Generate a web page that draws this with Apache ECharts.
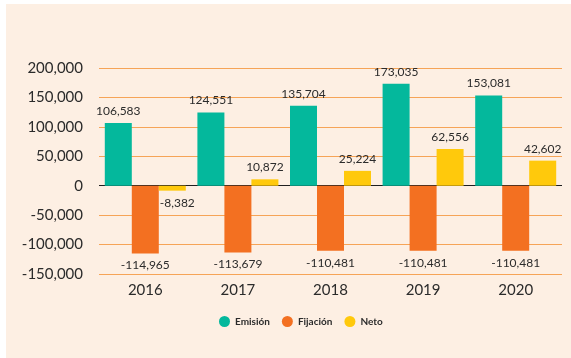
<!DOCTYPE html>
<html>
<head>
<meta charset="utf-8">
<script src="https://cdn.jsdelivr.net/npm/echarts@6/dist/echarts.min.js"></script>
<style>
  html, body { margin: 0; padding: 0; background: #ffffff; }
  #panel { position: absolute; left: 6px; top: 4px; right: 0; bottom: 0; background: #fdefe3; }
  #chart { position: absolute; left: 0; top: 0; width: 571px; height: 358px; }
</style>
</head>
<body>
<div id="panel"></div>
<div id="chart"></div>
<script>
const years = ['2016', '2017', '2018', '2019', '2020'];
const emision = [106583, 124551, 135704, 173035, 153081];
const fijacion = [-114965, -113679, -110481, -110481, -110481];
const neto = [-8382, 10872, 25224, 62556, 42602];
const yTicks = [-150000, -100000, -50000, 0, 50000, 100000, 150000, 200000];

const FONT = 'Lato';
const TEXT = '#2b2b2b';
const fmt = v => v.toLocaleString('en-US');

const chart = echarts.init(document.getElementById('chart'), null, { renderer: 'canvas' });

// zero line dark, every other gridline orange
const gridColors = yTicks.map(t => (t === 0 ? '#1f1f1f' : '#f6a457'));

function labelFor(pos) {
  return {
    show: true,
    position: pos,
    distance: 6,
    fontFamily: FONT,
    fontSize: 12,
    color: TEXT,
    formatter: p => fmt(p.value)
  };
}

chart.setOption({
  backgroundColor: 'transparent',
  animation: false,
  grid: { left: 99, right: 9, top: 68, bottom: 84 },
  legend: {
    bottom: 26,
    left: 214,
    icon: 'circle',
    itemWidth: 11,
    itemHeight: 11,
    itemGap: 12,
    textStyle: { fontFamily: FONT, fontSize: 10, fontWeight: 'bold', color: TEXT },
    data: ['Emisión', 'Fijación', 'Neto']
  },
  xAxis: {
    type: 'category',
    data: years,
    axisLine: { show: false, onZero: false },
    axisTick: { show: false },
    axisLabel: { fontFamily: FONT, fontSize: 15, color: TEXT, margin: 9 }
  },
  yAxis: {
    type: 'value',
    min: yTicks[0],
    max: yTicks[yTicks.length - 1],
    interval: 50000,
    axisLine: { show: false },
    axisTick: { show: false },
    axisLabel: { fontFamily: FONT, fontSize: 15, color: TEXT, margin: 16, formatter: v => fmt(v) },
    splitLine: { lineStyle: { color: gridColors, width: 1 } }
  },
  series: [
    {
      name: 'Emisión', type: 'bar', data: emision,
      barWidth: 27, barGap: '0%',
      itemStyle: { color: '#04b89c' },
      label: labelFor('top')
    },
    {
      name: 'Fijación', type: 'bar', data: fijacion,
      barWidth: 27, barGap: '0%',
      itemStyle: { color: '#f37021' },
      label: labelFor('bottom')
    },
    {
      name: 'Neto', type: 'bar',
      data: neto.map(v => ({
        value: v,
        label: v < 0 ? { position: 'bottom', offset: [5, 0] } : { position: 'top' }
      })),
      barWidth: 27, barGap: '0%',
      itemStyle: { color: '#ffc90c' },
      label: labelFor('top')
    }
  ]
});
</script>
</body>
</html>
